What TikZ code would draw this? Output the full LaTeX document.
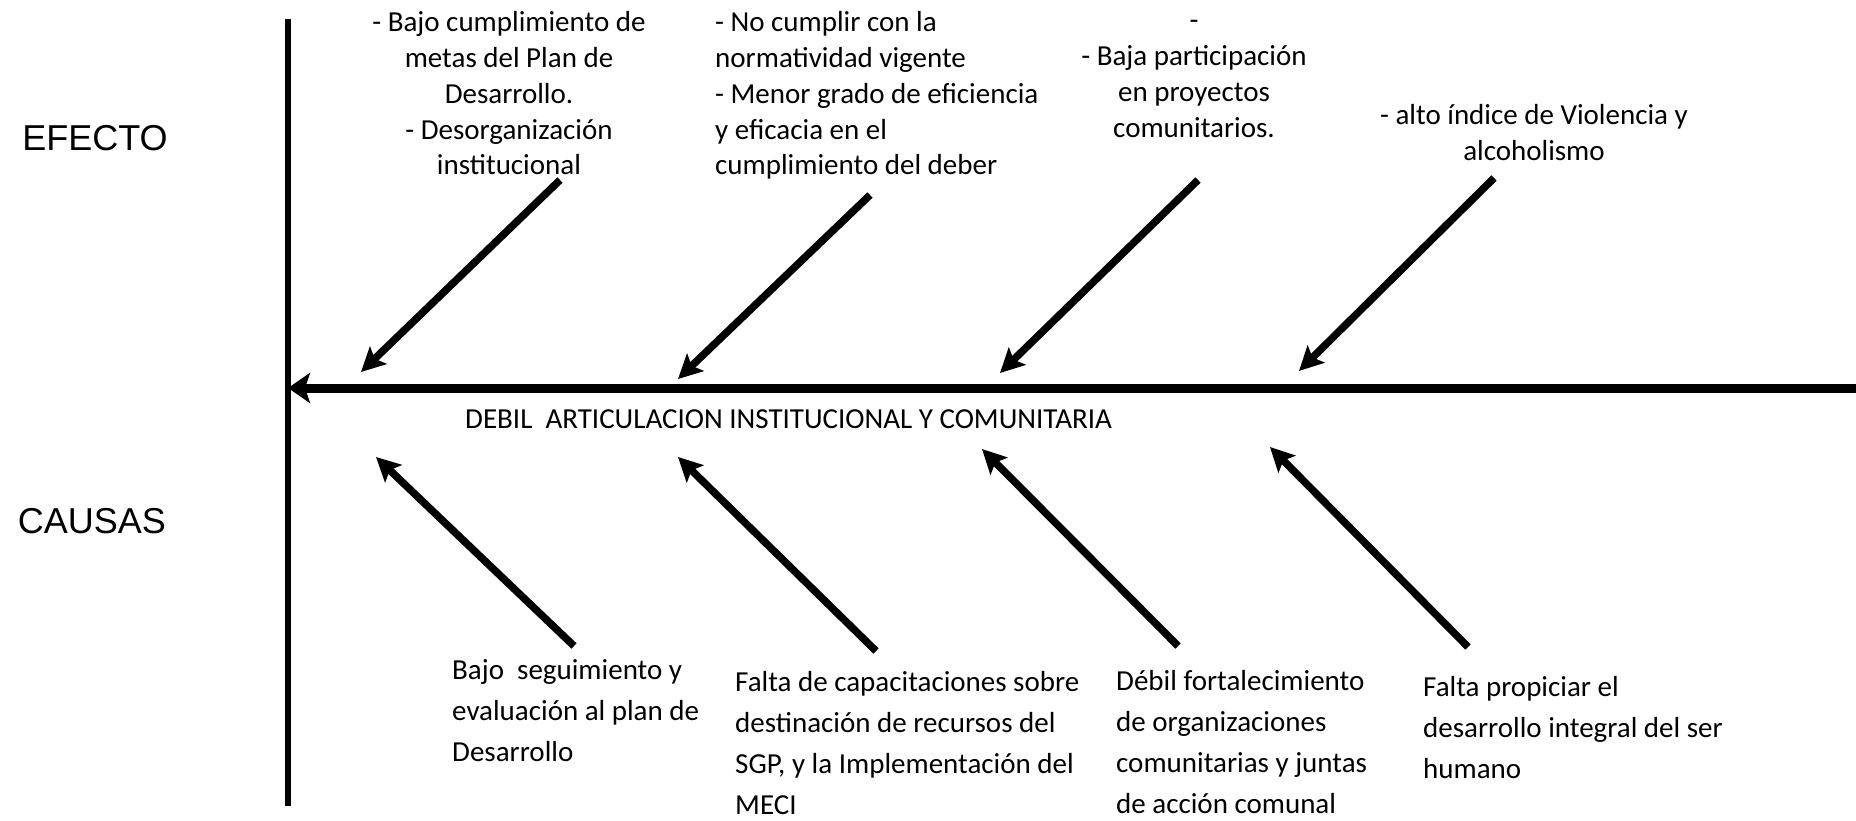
\documentclass[tikz,border=0pt]{standalone}
\usepackage{fontspec}
\setmainfont{Carlito}
\newfontfamily\arialf{Liberation Sans}
\usetikzlibrary{arrows.meta}
\tikzset{
  bone/.style={line width=7.5pt,-{Stealth[length=24pt,width=24pt,inset=5pt]}},
  spine/.style={line width=9pt,-{Stealth[length=22pt,width=30pt,inset=5pt]}},
  axis/.style={line width=6pt},
  efftxt/.style={inner sep=0pt,font={\fontsize{29}{35.9}\selectfont}},
  caustxt/.style={inner sep=0pt,font={\fontsize{29}{41.2}\selectfont}},
  sidetxt/.style={inner sep=0pt,font={\arialf\fontsize{36}{40}\selectfont}}
}
\begin{document}
\begin{tikzpicture}[x=1pt,y=-1pt]
\useasboundingbox (0,0) rectangle (1856,821);
% axis
\coordinate (vtop) at (288,19);
\coordinate (vbot) at (288,806);
\draw[axis] (vtop) -- (vbot);
\coordinate (sright) at (1860,388);
\coordinate (shead) at (288,388);
\draw[spine] (sright) -- (shead);
% side labels
\node[sidetxt] (efecto) at (95,138) {EFECTO};
\node[sidetxt] (causas) at (92,521) {CAUSAS};
% spine label
\node[efftxt,anchor=west] (problema) at (465,419) {DEBIL\ \ ARTICULACION INSTITUCIONAL Y COMUNITARIA};
% effect texts
\node[efftxt,anchor=north,align=center] (e1) at (509,11) {- Bajo cumplimiento de\\metas del Plan de\\Desarrollo.\\- Desorganización\\institucional};
\node[efftxt,anchor=north west,align=left] (e2) at (715,11) {- No cumplir con la\\normatividad vigente\\- Menor grado de eficiencia\\y eficacia en el\\cumplimiento del deber};
\node[efftxt,anchor=north,align=center] (e3) at (1194,11) {\vphantom{Bp}-\\- Baja participación\\en proyectos\\comunitarios.};
\node[efftxt,anchor=north,align=center] (e4) at (1534,104) {- alto índice de Violencia y\\alcoholismo};
% cause texts
\node[caustxt,anchor=north west,align=left] (c1) at (452,659) {Bajo\ \ seguimiento y\\evaluación al plan de\\Desarrollo};
\node[caustxt,anchor=north west,align=left] (c2) at (735,671) {Falta de capacitaciones sobre\\destinación de recursos del\\SGP, y la Implementación del\\MECI};
\node[caustxt,anchor=north west,align=left] (c3) at (1116,670) {Débil fortalecimiento\\de organizaciones\\comunitarias y juntas\\de acción comunal};
\node[caustxt,anchor=north west,align=left] (c4) at (1423,676) {Falta propiciar el\\desarrollo integral del ser\\humano};
% effect arrows
\coordinate (e1s) at (560,180); \coordinate (e1t) at (361,372);
\coordinate (e2s) at (870,195); \coordinate (e2t) at (678,379);
\coordinate (e3s) at (1198,180); \coordinate (e3t) at (1000,373);
\coordinate (e4s) at (1494,178); \coordinate (e4t) at (1299,371);
\draw[bone] (e1s) -- (e1t);
\draw[bone] (e2s) -- (e2t);
\draw[bone] (e3s) -- (e3t);
\draw[bone] (e4s) -- (e4t);
% cause arrows
\coordinate (c1s) at (574,646); \coordinate (c1t) at (376,457);
\coordinate (c2s) at (876,651); \coordinate (c2t) at (678,457);
\coordinate (c3s) at (1178,646); \coordinate (c3t) at (982,449);
\coordinate (c4s) at (1468,647); \coordinate (c4t) at (1270,447);
\draw[bone] (c1s) -- (c1t);
\draw[bone] (c2s) -- (c2t);
\draw[bone] (c3s) -- (c3t);
\draw[bone] (c4s) -- (c4t);
\end{tikzpicture}
\end{document}
